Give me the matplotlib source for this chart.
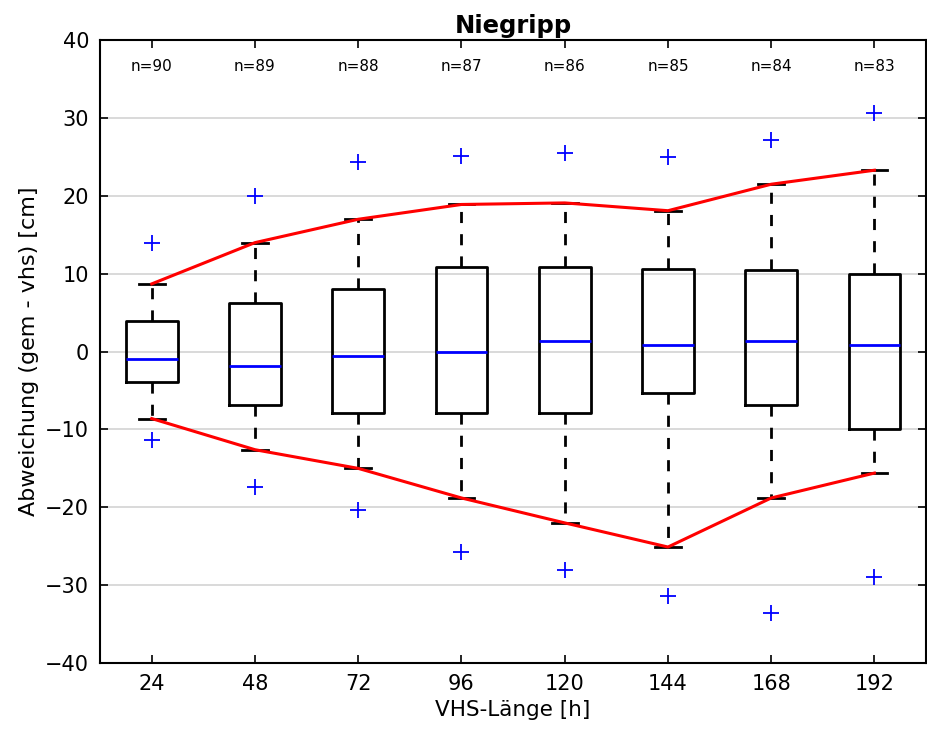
import matplotlib
matplotlib.use("Agg")
import matplotlib.pyplot as plt

# VHS lengths (h) and sample sizes
hours = [24, 48, 72, 96, 120, 144, 168, 192]
counts = [90, 89, 88, 87, 86, 85, 84, 83]

# box statistics (cm)
q1 = [-3.9, -6.9, -7.9, -7.9, -7.9, -5.3, -6.9, -9.9]
med = [-1.0, -1.9, -0.5, -0.1, 1.4, 0.9, 1.4, 0.9]
q3 = [3.9, 6.3, 8.0, 10.9, 10.9, 10.6, 10.5, 10.0]
whislo = [-8.6, -12.6, -15.0, -18.8, -22.0, -25.1, -18.8, -15.6]
whishi = [8.7, 14.0, 17.0, 18.9, 19.1, 18.1, 21.5, 23.3]
flier_lo = [-11.4, -17.4, -20.3, -25.8, -28.0, -31.4, -33.6, -29.0]
flier_hi = [14.0, 20.0, 24.3, 25.1, 25.5, 25.0, 27.2, 30.7]

stats = []
for i in range(len(hours)):
    stats.append({
        "med": med[i], "q1": q1[i], "q3": q3[i],
        "whislo": whislo[i], "whishi": whishi[i],
        "fliers": [flier_lo[i], flier_hi[i]],
    })

fig = plt.figure(figsize=(9.27, 7.31), dpi=100)
ax = fig.add_axes([0.108, 0.093, 0.891, 0.852])

ax.yaxis.grid(True, color="#d3d3d3", linewidth=1.2, zorder=0)
ax.set_axisbelow(True)

ax.bxp(stats, positions=hours, widths=12, manage_ticks=False,
       boxprops=dict(color="black", linewidth=2),
       whiskerprops=dict(color="black", linestyle="--", linewidth=2, dashes=(4, 4)),
       capprops=dict(color="black", linewidth=2),
       medianprops=dict(color="blue", linewidth=2),
       flierprops=dict(marker="+", markeredgecolor="blue", markersize=11,
                       markeredgewidth=1.3, linestyle="none"))

ax.plot(hours, whishi, color="red", linewidth=2.2, zorder=5)
ax.plot(hours, whislo, color="red", linewidth=2.2, zorder=5)

for h, n in zip(hours, counts):
    ax.text(h, 36.6, f"n={n}", ha="center", va="center", fontsize=11)

ax.set_xlim(12, 204)
ax.set_ylim(-40, 40)
ax.set_xticks(hours)
ax.set_yticks(range(-40, 41, 10))
ax.tick_params(direction="in", length=6, width=1.2, labelsize=15,
               top=True, right=True, pad=8)
for s in ax.spines.values():
    s.set_linewidth(1.5)

ax.set_title("Niegripp", fontsize=17.5, fontweight="bold", pad=5)
ax.set_xlabel("VHS-Länge [h]", fontsize=15.5, labelpad=4)
ax.set_ylabel("Abweichung (gem - vhs) [cm]", fontsize=16, labelpad=4)

fig.savefig("out.png", dpi=100)
